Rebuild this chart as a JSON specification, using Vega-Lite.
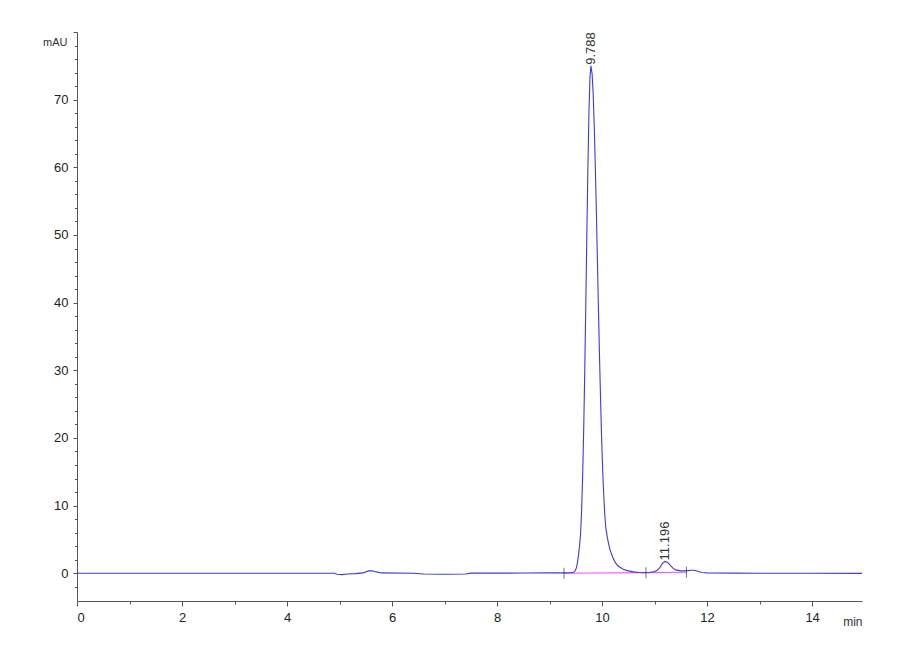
{
  "$schema": "https://vega.github.io/schema/vega-lite/v6.json",
  "width": 785,
  "height": 569,
  "autosize": "none",
  "padding": {"left": 77, "top": 32, "right": 38, "bottom": 59},
  "background": "white",
  "datasets": {
    "signal": [
      {"t": 0, "v": 0}, {"t": 4.9, "v": 0}, {"t": 4.95, "v": -0.15}, {"t": 5.05, "v": -0.2},
      {"t": 5.15, "v": -0.1}, {"t": 5.3, "v": -0.05}, {"t": 5.45, "v": 0.05}, {"t": 5.55, "v": 0.35},
      {"t": 5.62, "v": 0.38}, {"t": 5.7, "v": 0.2}, {"t": 5.8, "v": 0.05}, {"t": 6.4, "v": 0},
      {"t": 6.6, "v": -0.12}, {"t": 7.0, "v": -0.15}, {"t": 7.4, "v": -0.12}, {"t": 7.5, "v": 0.02},
      {"t": 8.0, "v": 0.02}, {"t": 8.5, "v": 0.03}, {"t": 9.0, "v": 0.05}, {"t": 9.3, "v": 0.05},
      {"t": 9.4, "v": 0.08}, {"t": 9.46, "v": 0.15}, {"t": 9.49, "v": 0.4}, {"t": 9.51, "v": 0.8},
      {"t": 9.53, "v": 1.5}, {"t": 9.55, "v": 2.6}, {"t": 9.57, "v": 4.0}, {"t": 9.59, "v": 5.8},
      {"t": 9.61, "v": 9.2}, {"t": 9.63, "v": 14.4}, {"t": 9.65, "v": 21.3}, {"t": 9.67, "v": 29.9},
      {"t": 9.69, "v": 39.8}, {"t": 9.71, "v": 50.2}, {"t": 9.73, "v": 60.0}, {"t": 9.75, "v": 68.2},
      {"t": 9.77, "v": 73.4}, {"t": 9.788, "v": 75}, {"t": 9.81, "v": 73.8}, {"t": 9.83, "v": 70.9},
      {"t": 9.85, "v": 66.3}, {"t": 9.87, "v": 60.5}, {"t": 9.89, "v": 53.8}, {"t": 9.91, "v": 46.6},
      {"t": 9.93, "v": 39.3}, {"t": 9.95, "v": 32.4}, {"t": 9.97, "v": 26.0}, {"t": 9.99, "v": 20.3},
      {"t": 10.01, "v": 15.5}, {"t": 10.03, "v": 11.8}, {"t": 10.05, "v": 8.8}, {"t": 10.07, "v": 6.8},
      {"t": 10.1, "v": 5.3}, {"t": 10.12, "v": 4.5}, {"t": 10.15, "v": 3.5}, {"t": 10.2, "v": 2.4},
      {"t": 10.25, "v": 1.6}, {"t": 10.3, "v": 1.1}, {"t": 10.4, "v": 0.6}, {"t": 10.5, "v": 0.35},
      {"t": 10.6, "v": 0.2}, {"t": 10.7, "v": 0.12}, {"t": 10.8, "v": 0.08}, {"t": 10.9, "v": 0.12},
      {"t": 11.0, "v": 0.25}, {"t": 11.05, "v": 0.45}, {"t": 11.1, "v": 0.85}, {"t": 11.15, "v": 1.45},
      {"t": 11.196, "v": 1.75}, {"t": 11.25, "v": 1.6}, {"t": 11.3, "v": 1.15}, {"t": 11.35, "v": 0.75},
      {"t": 11.4, "v": 0.5}, {"t": 11.5, "v": 0.35}, {"t": 11.6, "v": 0.35}, {"t": 11.7, "v": 0.45},
      {"t": 11.76, "v": 0.45}, {"t": 11.82, "v": 0.3}, {"t": 11.9, "v": 0.12}, {"t": 12.0, "v": 0.05},
      {"t": 12.5, "v": 0.02}, {"t": 13.0, "v": 0}, {"t": 14.0, "v": 0}, {"t": 14.95, "v": -0.02}
    ],
    "baseline": [
      {"t": 9.274, "v": 0}, {"t": 10.835, "v": 0.08}, {"t": 11.606, "v": 0.15}
    ],
    "peaks": [
      {"t": 9.788, "v": 75, "label": "9.788"},
      {"t": 11.196, "v": 1.75, "label": "11.196"}
    ]
  },
  "encoding": {
    "x": {
      "field": "t",
      "type": "quantitative",
      "scale": {"domain": [0, 14.95], "nice": false, "zero": false},
      "axis": {
        "title": "min",
        "titleAnchor": "end",
        "titleAlign": "right",
        "titleX": 785,
        "titleY": 24,
        "titleBaseline": "alphabetic",
        "titleFontWeight": "normal",
        "titleFontSize": 12,
        "titleFont": "Liberation Sans",
        "titleColor": "#333",
        "format": "d",
        "values": [0, 0.5, 1, 1.5, 2, 2.5, 3, 3.5, 4, 4.5, 5, 5.5, 6, 6.5, 7, 7.5, 8, 8.5, 9, 9.5, 10, 10.5, 11, 11.5, 12, 12.5, 13, 13.5, 14, 14.5],
        "labelExpr": "datum.value % 2 === 0 ? datum.label : ''",
        "tickSize": {"condition": {"test": "datum.value % 2 === 0", "value": 5}, "value": 3},
        "labelPadding": 5,
        "labelFont": "Liberation Sans",
        "labelFontSize": 13,
        "labelColor": "#222",
        "domainColor": "#555",
        "tickColor": "#555",
        "grid": false
      }
    },
    "y": {
      "field": "v",
      "type": "quantitative",
      "scale": {"domain": [-4.1, 80], "nice": false, "zero": false},
      "axis": {
        "title": "mAU",
        "titleAngle": 0,
        "titleAlign": "right",
        "titleX": -10,
        "titleY": 13,
        "titleBaseline": "alphabetic",
        "titleFontWeight": "normal",
        "titleFontSize": 11,
        "titleFont": "Liberation Sans",
        "titleColor": "#333",
        "format": "d",
        "values": [-2, 0, 2, 4, 6, 8, 10, 12, 14, 16, 18, 20, 22, 24, 26, 28, 30, 32, 34, 36, 38, 40, 42, 44, 46, 48, 50, 52, 54, 56, 58, 60, 62, 64, 66, 68, 70, 72, 74, 76, 78, 80],
        "labelExpr": "datum.value % 10 === 0 && datum.value < 80 ? datum.label : ''",
        "tickSize": {"condition": {"test": "datum.value % 10 === 0", "value": 4}, "value": 2.5},
        "labelPadding": 5,
        "labelFont": "Liberation Sans",
        "labelFontSize": 13,
        "labelColor": "#222",
        "domainColor": "#555",
        "tickColor": "#555",
        "grid": false
      }
    }
  },
  "layer": [
    {
      "data": {"name": "baseline"},
      "mark": {"type": "line", "color": "#ff55ff", "strokeWidth": 1.2}
    },
    {
      "data": {"name": "signal"},
      "mark": {"type": "line", "color": "#3a3ae6", "strokeWidth": 1.1}
    },
    {
      "data": {"name": "baseline"},
      "mark": {"type": "tick", "orient": "vertical", "size": 11, "thickness": 1, "color": "#333"}
    },
    {
      "data": {"name": "peaks"},
      "mark": {"type": "text", "angle": 270, "align": "left", "baseline": "middle", "dx": 1, "fontSize": 13, "font": "Liberation Sans", "color": "#333"},
      "encoding": {"text": {"field": "label"}}
    }
  ],
  "config": {"view": {"stroke": null}}
}
